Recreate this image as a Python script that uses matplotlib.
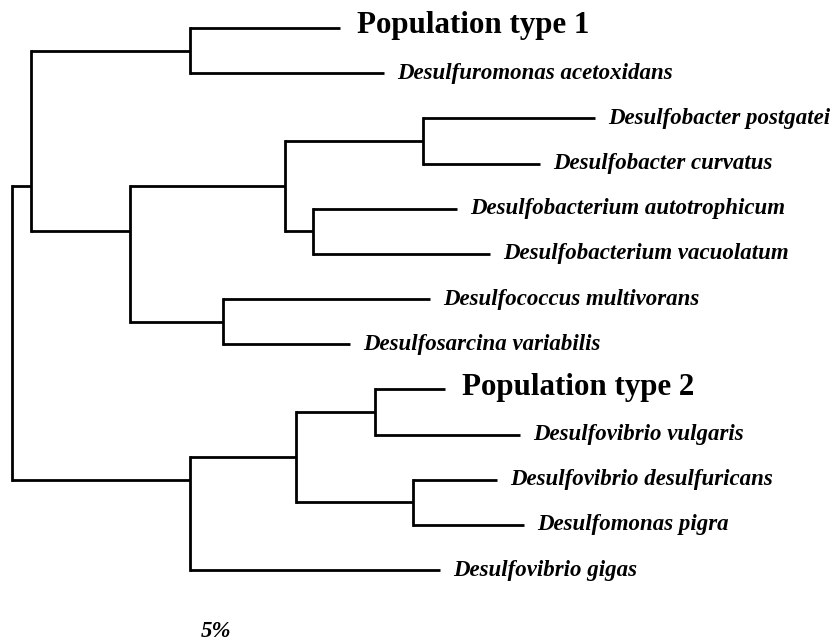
import matplotlib.pyplot as plt

# Arbol filogenetico (dendrograma) - ramas en unidades de distancia
# nodos internos: nombre, padre, longitud de rama, fila (posicion vertical)
nodos = ["A", "B", "C", "D", "E", "F", "G", "H", "I", "J", "K"]
padres_nodos = ["root", "A", "A", "C", "D", "D", "C", "root", "H", "I", "I"]
long_nodos = [19, 159, 99, 155, 138, 28, 93, 178, 106, 79, 117]
filas_nodos = [3.5, 0.5, 4.5, 3.5, 2.5, 4.5, 6.5, 10.0, 9.5, 8.5, 10.5]

# hojas, en orden de arriba hacia abajo
hojas = ["Population type 1", "Desulfuromonas acetoxidans",
         "Desulfobacter postgatei", "Desulfobacter curvatus",
         "Desulfobacterium autotrophicum", "Desulfobacterium vacuolatum",
         "Desulfococcus multivorans", "Desulfosarcina variabilis",
         "Population type 2", "Desulfovibrio vulgaris",
         "Desulfovibrio desulfuricans", "Desulfomonas pigra",
         "Desulfovibrio gigas"]
padres_hojas = ["B", "B", "E", "E", "F", "F", "G", "G", "J", "J", "K", "K", "H"]
long_hojas = [150, 194, 172, 117, 144, 177, 207, 127, 70, 145, 84, 111, 250]
poblaciones = ["Population type 1", "Population type 2"]

x_raiz = 12

# posiciones
pos_x = {"root": x_raiz}
pos_y = {}
for n, fila in zip(nodos, filas_nodos):
    pos_y[n] = fila
for n, p, l in zip(nodos, padres_nodos, long_nodos):
    pos_x[n] = pos_x[p] + l
for i, (h, p, l) in enumerate(zip(hojas, padres_hojas, long_hojas)):
    pos_x[h] = pos_x[p] + l
    pos_y[h] = i

fig = plt.figure(figsize=(8.34, 6.41), dpi=100)
ax = fig.add_axes([0, 0, 1, 1])
ax.set_xlim(0, 834)
ax.set_ylim(13.57, -0.62)
ax.axis("off")

lw = 2.0
hijos = {}
for n, p in list(zip(nodos, padres_nodos)) + list(zip(hojas, padres_hojas)):
    hijos.setdefault(p, []).append(n)

# ramas horizontales
for n, p in list(zip(nodos, padres_nodos)) + list(zip(hojas, padres_hojas)):
    ax.plot([pos_x[p], pos_x[n]], [pos_y[n], pos_y[n]], color="black", lw=lw,
            solid_capstyle="butt")

# lineas verticales de cada nodo
for p, hs in hijos.items():
    ys = [pos_y[h] for h in hs]
    ax.plot([pos_x[p], pos_x[p]], [min(ys), max(ys)], color="black", lw=lw,
            solid_capstyle="projecting")

# etiquetas
for h in hojas:
    if h in poblaciones:
        ax.text(pos_x[h] + 17, pos_y[h] - 0.05, h, fontsize=22.3, fontweight="bold",
                family="Liberation Serif", va="center", ha="left")
    else:
        ax.text(pos_x[h] + 13, pos_y[h], h, fontsize=16.5, fontweight="bold",
                fontstyle="italic", family="Liberation Serif", va="center", ha="left")

ax.text(216, 13.35, "5%", fontsize=16.5, fontweight="bold", fontstyle="italic",
        family="Liberation Serif", va="center", ha="center")

fig.savefig("out.png", dpi=100)
